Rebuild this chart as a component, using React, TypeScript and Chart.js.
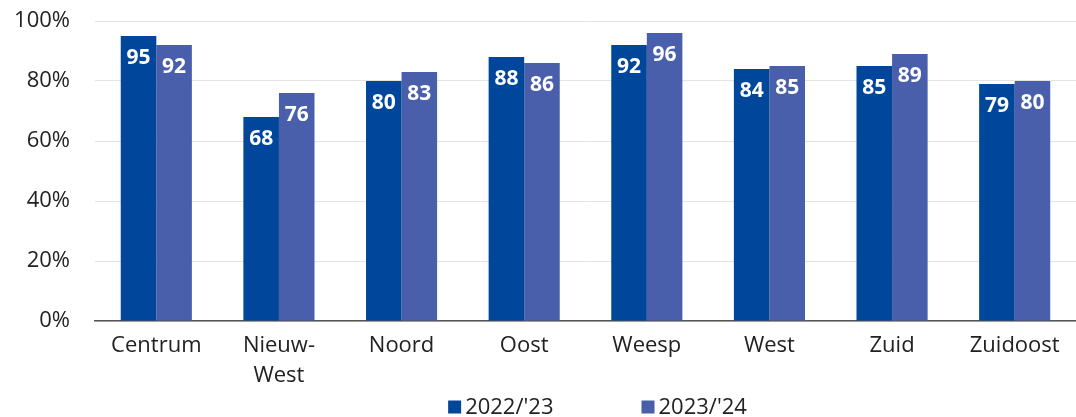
import React, { useEffect, useRef } from "react";
import { Chart, registerables } from "chart.js";

Chart.register(...registerables);

const categories: (string | string[])[] = ["Centrum", ["Nieuw-", "West"], "Noord", "Oost", "Weesp", "West", "Zuid", "Zuidoost"];
const series2022 = [95, 68, 80, 88, 92, 84, 85, 79];
const series2023 = [92, 76, 83, 86, 96, 85, 89, 80];
const seriesLabels = ["2022/'23", "2023/'24"];
const seriesColors = ["#00469a", "#4a5fab"];
const yTicks = [0, 20, 40, 60, 80, 100];

const FONT = "'Open Sans', 'Noto Sans', sans-serif";
const FS = 22;

const valueLabels = {
  id: "valueLabels",
  afterDatasetsDraw(chart: any) {
    const ctx = chart.ctx;
    ctx.save();
    ctx.fillStyle = "#ffffff";
    ctx.font = `bold 21px ${FONT}`;
    ctx.textAlign = "center";
    ctx.textBaseline = "middle";
    chart.data.datasets.forEach((ds: any, i: number) => {
      const meta = chart.getDatasetMeta(i);
      meta.data.forEach((bar: any, j: number) => {
        ctx.fillText(String(ds.data[j]), bar.x, bar.y + 22);
      });
    });
    ctx.restore();
  },
};

const customLegend = {
  id: "customLegend",
  afterDraw(chart: any) {
    const ctx = chart.ctx;
    ctx.save();
    ctx.font = `${FS}px ${FONT}`;
    ctx.textBaseline = "middle";
    ctx.textAlign = "left";
    const y = 407;
    const box = 13;
    const gap = 4;
    const itemGap = 88;
    const widths = seriesLabels.map((l) => box + gap + ctx.measureText(l).width);
    const total = widths.reduce((a, b) => a + b, 0) + itemGap * (widths.length - 1);
    let x = (chart.chartArea.left + chart.chartArea.right) / 2 + 12 - total / 2;
    seriesLabels.forEach((l, i) => {
      ctx.fillStyle = seriesColors[i];
      ctx.fillRect(x, y - box / 2, box, box);
      ctx.fillStyle = "#222";
      ctx.fillText(l, x + box + gap, y + 1);
      x += widths[i] + itemGap;
    });
    ctx.restore();
  },
};

export default function App() {
  const ref = useRef<HTMLCanvasElement>(null);
  useEffect(() => {
    document.body.style.margin = "0";
    const chart = new Chart(ref.current!, {
      type: "bar",
      data: {
        labels: categories,
        datasets: [
          { label: seriesLabels[0], data: series2022, backgroundColor: seriesColors[0], categoryPercentage: 0.58, barPercentage: 1 },
          { label: seriesLabels[1], data: series2023, backgroundColor: seriesColors[1], categoryPercentage: 0.58, barPercentage: 1 },
        ],
      },
      options: {
        animation: false,
        responsive: false,
        maintainAspectRatio: false,
        layout: { padding: { top: 21, right: 0, left: 0, bottom: 0 } },
        plugins: {
          legend: { display: false },
          tooltip: { enabled: false },
        },
        scales: {
          x: {
            afterFit(scale: any) {
              scale.height = 96;
            },
            grid: { display: false, drawTicks: false },
            border: { display: true, color: "#555", width: 1.5 },
            ticks: { font: { family: FONT, size: FS, lineHeight: 1.36 }, color: "#222", padding: 10 },
          },
          y: {
            min: 0,
            max: 100,
            afterBuildTicks(scale: any) {
              scale.ticks = yTicks.map((v) => ({ value: v }));
            },
            afterFit(scale: any) {
              scale.width = 95;
              scale.paddingTop = 0;
              scale.paddingBottom = 0;
            },
            grid: { color: "#e3e3e3", drawTicks: false },
            border: { display: false },
            ticks: {
              font: { family: FONT, size: FS },
              color: "#222",
              padding: 25,
              callback: (v: any) => v + "%",
            },
          },
        },
      },
      plugins: [valueLabels, customLegend],
    });
    return () => chart.destroy();
  }, []);
  return (
    <div style={{ width: 1076, height: 417 }}>
      <canvas ref={ref} width={1076} height={417} />
    </div>
  );
}
